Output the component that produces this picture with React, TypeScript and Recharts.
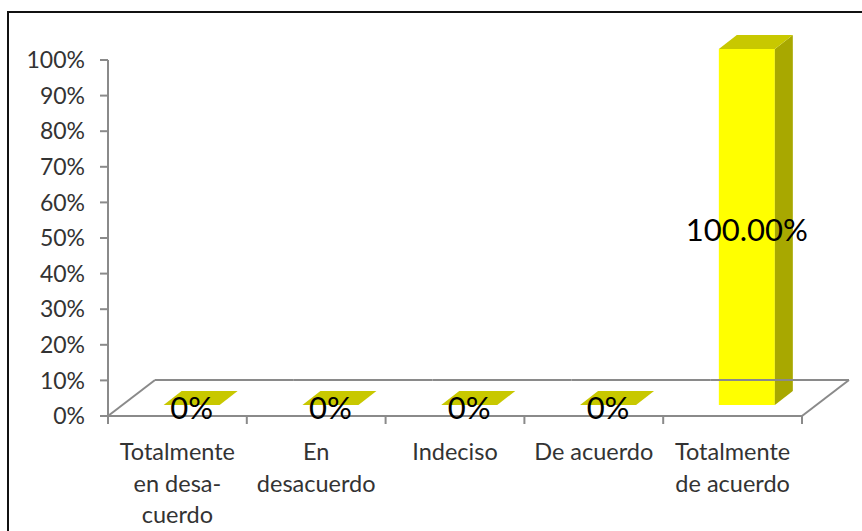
import { BarChart, Bar, XAxis, YAxis, LabelList } from "recharts"

const categories = ["Totalmente en desacuerdo", "En desacuerdo", "Indeciso", "De acuerdo", "Totalmente de acuerdo"]
const categoryLines = [["Totalmente", "en desa-", "cuerdo"], ["En", "desacuerdo"], ["Indeciso"], ["De acuerdo"], ["Totalmente", "de acuerdo"]]
const shares = [0, 0, 0, 0, 1]
const valueLabels = ["0%", "0%", "0%", "0%", "100.00%"]
const yTicks = [0, 0.1, 0.2, 0.3, 0.4, 0.5, 0.6, 0.7, 0.8, 0.9, 1]

const data = categories.map((category, i) => ({ category, share: shares[i], label: valueLabels[i] }))

// fake 3D offsets
const BAR_DX = 14
const BAR_DY = -11
const DEPTH_X = 18
const DEPTH_Y = -14
const FLOOR_X = 47
const FLOOR_Y = -36
const X_TICK = 8

const AXIS = "#8a8a8a"
const TEXT = "#333"

function Bar3D(props: any) {
  const { x, y, width, height } = props
  const fx = x + BAR_DX
  const fy = y + BAR_DY
  const top = `${fx},${fy} ${fx + DEPTH_X},${fy + DEPTH_Y} ${fx + width + DEPTH_X},${fy + DEPTH_Y} ${fx + width},${fy}`
  const side = `${fx + width},${fy} ${fx + width + DEPTH_X},${fy + DEPTH_Y} ${fx + width + DEPTH_X},${fy + height + DEPTH_Y} ${fx + width},${fy + height}`
  return (
    <g>
      {height > 0 && <rect x={fx} y={fy} width={width} height={height} fill="#ffff00" />}
      {height > 0 && <polygon points={side} fill="#a8a800" />}
      <polygon points={top} fill="#c8c800" />
    </g>
  )
}

function ValueLabel(props: any) {
  const { x, y, width, height, value } = props
  return (
    <text
      x={x + width / 2 + BAR_DX}
      y={y + height / 2 + BAR_DY + 2}
      textAnchor="middle"
      dominantBaseline="central"
      fontSize={31}
      fill="#000"
    >
      {value}
    </text>
  )
}

function CategoryTick(props: any) {
  const { x, y, payload, index } = props
  const half = payload.offset || 0
  const left = x - half
  const right = x + half
  const base = y - X_TICK
  const last = index === categories.length - 1
  const lines = categoryLines[index] || [payload.value]
  return (
    <g>
      {/* floor */}
      <line x1={left + FLOOR_X} y1={base + FLOOR_Y} x2={right + FLOOR_X} y2={base + FLOOR_Y} stroke={AXIS} strokeWidth={2} />
      {index === 0 && <line x1={left} y1={base} x2={left + FLOOR_X} y2={base + FLOOR_Y} stroke={AXIS} strokeWidth={2} />}
      {last && <line x1={right} y1={base} x2={right + FLOOR_X} y2={base + FLOOR_Y} stroke={AXIS} strokeWidth={2} />}
      <line x1={left} y1={base} x2={left} y2={base + X_TICK} stroke={AXIS} strokeWidth={2} />
      {last && <line x1={right} y1={base} x2={right} y2={base + X_TICK} stroke={AXIS} strokeWidth={2} />}
      <text x={x} y={base + 44} textAnchor="middle" fontSize={23.5} fill={TEXT}>
        {lines.map((t: string, i: number) => (
          <tspan key={i} x={x} dy={i === 0 ? 0 : 31.5}>
            {t}
          </tspan>
        ))}
      </text>
    </g>
  )
}

export default function App() {
  return (
    <div
      style={{
        position: "fixed",
        left: 0,
        top: 0,
        width: 862,
        height: 531,
        overflow: "hidden",
        background: "#fff",
        fontFamily: "Lato, sans-serif",
      }}
    >
      <div
        style={{
          position: "absolute",
          left: 7,
          top: 11,
          width: 900,
          height: 600,
          border: "2px solid #111",
        }}
      />
      <div style={{ position: "absolute", left: 0, top: 0 }}>
        <BarChart width={862} height={531} data={data} margin={{ top: 60, right: 60, left: 0, bottom: 0 }} barCategoryGap="30%">
          <XAxis
            dataKey="category"
            height={115}
            axisLine={{ stroke: AXIS, strokeWidth: 2 }}
            tickLine={false}
            tickSize={X_TICK}
            tickMargin={0}
            tick={<CategoryTick />}
            interval={0}
          />
          <YAxis
            width={108}
            domain={[0, 1]}
            ticks={yTicks}
            tickFormatter={(v: number) => `${Math.round(v * 100)}%`}
            axisLine={{ stroke: AXIS, strokeWidth: 2 }}
            tickLine={{ stroke: AXIS, strokeWidth: 2 }}
            tickSize={8}
            tickMargin={15}
            tick={{ fontSize: 23, fill: TEXT }}
            interval={0}
          />
          <Bar dataKey="share" shape={<Bar3D />} isAnimationActive={false}>
            <LabelList dataKey="label" content={<ValueLabel />} />
          </Bar>
        </BarChart>
      </div>
    </div>
  )
}
